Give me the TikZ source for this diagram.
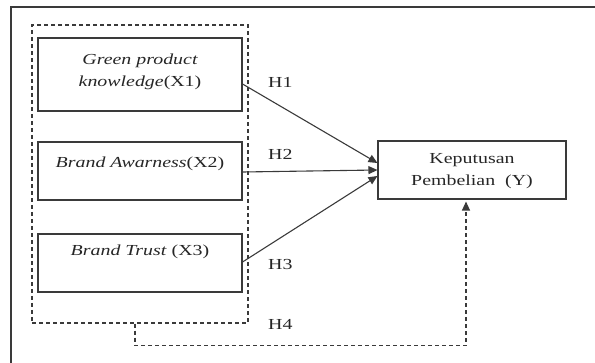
\documentclass[tikz,border=0pt]{standalone}
\usepackage{fontspec}
\setmainfont{Liberation Serif}[FakeStretch=1.3]
\usetikzlibrary{arrows.meta,calc}
\definecolor{ln}{HTML}{3A3A3A}
\tikzset{
  box/.style={draw=ln,line width=1.1pt,minimum width=204pt,minimum height=#1,inner sep=0pt},
  txt/.style={font=\fontsize{15.3}{22}\selectfont,inner sep=0pt,align=center,text=black!85},
  grp/.style={draw=ln,line width=1.1pt,dash pattern=on 4pt off 3pt,inner sep=0pt},
  arr/.style={draw=ln,line width=1.1pt,-{Triangle[length=9pt,width=8pt]}},
  darr/.style={draw=ln,line width=1.1pt,dash pattern=on 4pt off 3pt,-{Triangle[length=9pt,width=8pt]}},
}
\begin{document}
\begin{tikzpicture}[x=1pt,y=-1pt]
\useasboundingbox (0,0) rectangle (595,363);
% outer frame (top and left only)
\draw[ln,line width=1.3pt] (595,7) -- (11,7) -- (11,363);
% group
\node[grp,minimum width=216pt,minimum height=298pt] (grp) at (140,174) {};
% boxes
\node[box=73pt] (x1) at (140,74.5) {};
\node[txt] (t1) at (140,72) {\itshape Green product\\\textit{knowledge}\textup{(X1)}};
\node[box=58pt] (x2) at (140,171) {};
\node[txt,anchor=base] (t2) at (140,168) {\textit{Brand Awarness}(X2)};
\node[box=58pt] (x3) at (140,263) {};
\node[txt,anchor=base] (t3) at (140,256) {\textit{Brand Trust} (X3)};
\node[box=58pt,minimum width=188pt] (y) at (472,170) {};
\node[txt] (ty) at (472,171) {Keputusan\\Pembelian\ \ (Y)};
% arrows
\draw[arr] ($(x1.east)+(0,9.5)$) -- ($(y.west)+(0,-7)$);
\draw[arr] ($(x2.east)+(0,1)$) -- (y.west);
\draw[arr] ($(x3.east)+(0,-1)$) -- ($(y.west)+(0,6)$);
\coordinate (h4a) at ($(grp.south)+(-5,0)$);
\draw[darr] (h4a) -- ++(0,22) -| ($(y.south)+(-6,2)$);
% labels
\node[txt,anchor=base west] (h1) at (268,88) {H1};
\node[txt,anchor=base west] (h2) at (268,160) {H2};
\node[txt,anchor=base west] (h3) at (268,270) {H3};
\node[txt,anchor=base west] (h4) at (268,330) {H4};
\end{tikzpicture}
\end{document}
